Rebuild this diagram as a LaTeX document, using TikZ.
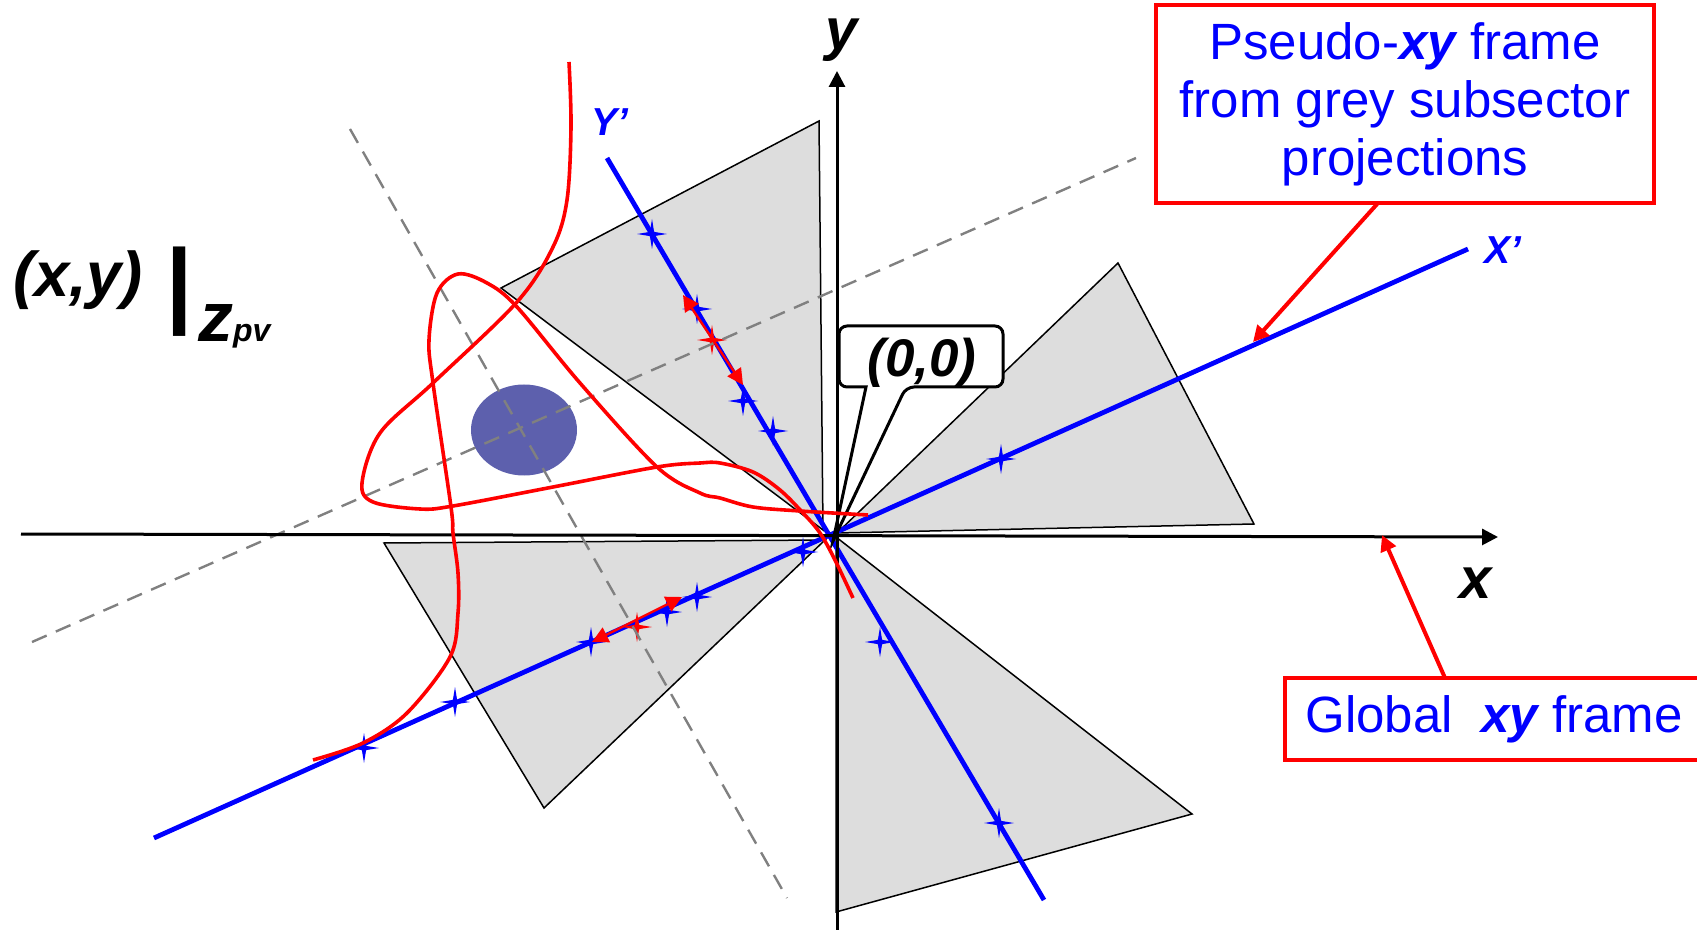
\documentclass[tikz,border=0pt]{standalone}
\usepackage{fontspec}
\setmainfont{Liberation Sans}
\usepackage{tikz}
\usetikzlibrary{arrows.meta,shapes.geometric}
\definecolor{sectorgrey}{HTML}{DDDDDD}
\definecolor{vertexblue}{HTML}{5D60AD}
\definecolor{dashgrey}{HTML}{808080}
\newcommand{\bfit}{\bfseries\itshape}
\newcommand{\fsize}[1]{\fontsize{#1}{#1}\selectfont}

\begin{document}
\begin{tikzpicture}[x=0.5pt, y=-0.5pt, >={Stealth[inset=0pt,length=8pt,width=8pt]},
  sector/.style={draw=black, line width=0.75pt, fill=sectorgrey},
  axisline/.style={->, line width=1.5pt, black},
  frameline/.style={line width=2.4pt, blue},
  guideline/.style={line width=1.2pt, dashgrey, dash pattern=on 8pt off 5pt},
  track/.style={line width=1.8pt, red},
  hitstar/.style={star, star points=4, star point ratio=5, fill=blue, inner sep=0pt, minimum size=15pt},
  projstar/.style={hitstar, fill=red},
  framebox/.style={draw=red, line width=2.2pt, fill=white, text=blue, align=center, inner sep=0pt},
  pointer/.style={->, red, line width=2pt},
  framelabel/.style={text=blue, font=\bfit\fsize{19.5}},
  axislabel/.style={text=black, font=\bfit\fsize{29}},
  bigtext/.style={anchor=base, text=black, font=\bfit\fsize{31.6}}]
  \useasboundingbox (0,0) rectangle (1697,930);
  % grey subsectors
  \draw[sector] (501,288) -- (819,121) -- (823,530) -- cycle;
  \draw[sector] (837,533) -- (1118,263) -- (1254,524) -- cycle;
  \draw[sector] (384,543) -- (825,540) -- (544,808) -- cycle;
  \draw[sector] (836,537) -- (1192,814) -- (836,912) -- cycle;
  % primary vertex
  \node[ellipse, fill=vertexblue, minimum width=106pt*0.5, minimum height=91pt*0.5, inner sep=0pt] (vertex) at (524,430) {};
  % pseudo frame
  \draw[frameline] (154,838) -- (1468,249);
  \draw[frameline] (607,158) -- (1044,900);
  % hits on X'
  \node[hitstar] (hitA) at (364,748) {};
  \node[hitstar] (hitB) at (455,702) {};
  \node[hitstar] (hitC) at (591,642) {};
  \node[hitstar] (hitD) at (667,612) {};
  \node[hitstar] (hitE) at (697,597) {};
  \node[hitstar] (hitF) at (803,552) {};
  \node[hitstar] (hitG) at (1001,459) {};
  % hits on Y'
  \node[hitstar] (hitH) at (652,234) {};
  \node[hitstar] (hitI) at (697,309) {};
  \node[hitstar] (hitJ) at (743,401) {};
  \node[hitstar] (hitK) at (773,431) {};
  \node[hitstar] (hitL) at (880,642) {};
  \node[hitstar] (hitM) at (999,823) {};
  % projected points
  \node[projstar] (projY) at (712,340) {};
  \node[projstar] (projX) at (637,627) {};
  \coordinate (tipYa) at (683,295);
  \coordinate (tipYb) at (743,385);
  \coordinate (tipXa) at (592,642);
  \coordinate (tipXb) at (682,597);
  \draw[<->, red, line width=1.2pt] (tipYa) -- (tipYb);
  \draw[<->, red, line width=1.2pt] (tipXa) -- (tipXb);
  % dashed guides through the vertex
  \draw[guideline] (32,642) -- (1136,158);
  \draw[guideline] (350,129) -- (787,898);
  % callout
  \draw[black, line width=1.5pt, fill=white, rounded corners=8pt*0.5]
    (866,387) -- (839,387) -- (839,326) -- (1003,326) -- (1003,387) -- (906,387) [sharp corners] -- (833,541) -- cycle;
  \node[anchor=base, text=black, font=\bfit\fsize{26.5}] (origin) at (922,377) {(0,0)};
  % global axes
  \draw[axisline] (21,534) -- (1498,537);
  \draw[axisline] (837,930) -- (837,71);
  % tracks
  \draw[track] plot[smooth, tension=0.55] coordinates {(569,62) (571,127) (567,200) (553,247) (517,302) (433,383) (380,433) (362,483) (373,502) (420,509) (453,506) (553,487) (657,467) (700,463) (720,463) (753,472) (780,490) (803,513) (820,533) (835,560) (853,598)};
  \draw[track] plot[smooth, tension=0.55] coordinates {(313,760) (363,743) (407,713) (450,657) (458,613) (458,573) (453,533) (451,507) (433,383) (429,340) (437,293) (458,274) (487,283) (517,307) (580,383) (657,467) (700,493) (720,498) (753,507) (800,511) (868,515)};
  % labels
  \node[axislabel, anchor=base] (ylabel) at (842,50) {y};
  \node[axislabel, anchor=base] (xlabel) at (1476,598) {x};
  \node[framelabel] (yprime) at (610,122) {Y’};
  \node[framelabel] (xprime) at (1503,250) {X’};
  \node[bigtext] (xylabel) at (78,297) {(x,y)};
  \node[bigtext, font=\bfit\fsize{48}] (barlabel) at (178,317) {|};
  \node[bigtext, anchor=base west, font=\bfit\fsize{35}] (zlabel) at (191,342) {z{\fsize{16}pv}};
  % frame boxes
  \node[framebox, minimum width=249pt, minimum height=99pt, font=\fontsize{25.5}{29}\selectfont] (pseudobox) at (1405,104) {Pseudo-{\bfit xy} frame\\from grey subsector\\projections};
  \node[framebox, minimum width=217pt, minimum height=41pt, font=\fsize{25.5}] (globalbox) at (1502,719) {Global\ \ {\bfit xy} frame\hspace{8pt}};
  \coordinate (pseudotail) at (1378,203);
  \coordinate (pseudotip) at (1253,342);
  \coordinate (globaltail) at (1445,678);
  \coordinate (globaltip) at (1382,535);
  \draw[pointer] (pseudotail) -- (pseudotip);
  \draw[pointer] (globaltail) -- (globaltip);
\end{tikzpicture}
\end{document}
